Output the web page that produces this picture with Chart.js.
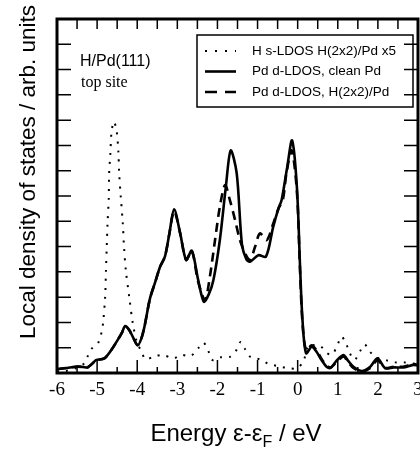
<!DOCTYPE html>
<html><head><meta charset="utf-8">
<script src="https://cdn.jsdelivr.net/npm/chart.js@4/dist/chart.umd.min.js"></script>
<style>html,body{margin:0;padding:0;background:#fff}canvas{display:block}</style>
</head><body>
<canvas id="c" width="420" height="450"></canvas>
<script>
// ---- data ----
const hEnergy = [-6.0,-5.78,-5.55,-5.36,-5.25,-5.13,-4.98,-4.89,-4.85,-4.80,-4.78,-4.76,-4.74,-4.71,-4.70,-4.67,-4.64,-4.58,-4.51,-4.47,-4.45,-4.41,-4.36,-4.33,-4.28,-4.20,-4.11,-4.0,-3.91,-3.79,-3.56,-3.35,-3.10,-2.89,-2.67,-2.48,-2.35,-2.23,-2.12,-1.92,-1.69,-1.53,-1.42,-1.31,-1.17,-0.94,-0.73,-0.51,-0.26,-0.02,0.14,0.27,0.42,0.58,0.72,0.85,0.98,1.09,1.21,1.30,1.42,1.55,1.67,1.80,2.0,2.22,2.43,2.67,3.0];
const hValues = [0.05,0.08,0.18,0.32,0.62,0.97,1.17,1.6,2.0,3.0,4.0,5.0,5.92,6.9,7.9,8.68,9.54,9.94,9.54,8.75,7.9,6.97,5.92,5.0,4.0,3.02,1.96,1.17,0.91,0.54,0.67,0.71,0.58,0.71,0.67,0.98,1.2,0.88,0.51,0.62,0.64,0.9,1.23,0.94,0.62,0.54,0.36,0.28,0.2,0.19,0.45,1.1,1.1,1.05,0.8,0.72,1.05,1.44,1.15,0.78,0.52,0.85,1.13,0.84,0.6,0.5,0.42,0.42,0.35];

const cleanEnergy = [-6.0,-5.75,-5.53,-5.35,-5.24,-5.1,-5.03,-4.82,-4.65,-4.49,-4.38,-4.30,-4.2,-4.11,-3.99,-3.9,-3.82,-3.68,-3.55,-3.43,-3.31,-3.2,-3.08,-2.93,-2.78,-2.64,-2.48,-2.34,-2.22,-2.10,-1.94,-1.79,-1.67,-1.52,-1.39,-1.28,-1.19,-0.98,-0.79,-0.61,-0.48,-0.40,-0.26,-0.14,-0.02,0.06,0.12,0.21,0.35,0.47,0.6,0.72,0.82,0.95,1.14,1.25,1.39,1.6,1.81,1.99,2.18,2.39,2.63,2.88,3.0];
const cleanValues = [0.15,0.2,0.25,0.24,0.22,0.4,0.51,0.58,0.9,1.3,1.6,1.86,1.7,1.43,1.1,1.35,1.83,2.96,3.6,4.2,4.6,5.5,6.47,5.53,4.47,4.84,3.68,2.82,3.1,3.68,5.26,7.37,8.8,7.9,5.1,4.5,4.4,4.66,4.6,5.78,6.5,6.84,8.15,9.2,7.37,4.2,2.1,0.78,1.04,0.84,0.5,0.25,0.2,0.45,0.71,0.5,0.25,0.08,0.25,0.58,0.19,0.22,0.22,0.32,0.3];

const hpdEnergy = [-6.0,-5.75,-5.53,-5.35,-5.24,-5.1,-5.03,-4.82,-4.65,-4.49,-4.38,-4.30,-4.2,-4.11,-3.99,-3.9,-3.82,-3.68,-3.55,-3.43,-3.31,-3.2,-3.08,-2.93,-2.78,-2.64,-2.48,-2.31,-2.19,-2.06,-1.94,-1.81,-1.69,-1.56,-1.44,-1.31,-1.19,-1.06,-0.94,-0.77,-0.61,-0.48,-0.37,-0.28,-0.15,-0.02,0.06,0.12,0.21,0.35,0.47,0.6,0.72,0.82,0.95,1.14,1.25,1.39,1.6,1.81,1.99,2.18,2.39,2.63,2.88,3.0];
const hpdValues = [0.15,0.2,0.25,0.24,0.22,0.4,0.51,0.58,0.9,1.3,1.6,1.86,1.7,1.43,1.1,1.35,1.83,2.96,3.6,4.2,4.6,5.5,6.4,5.53,4.47,4.84,3.6,2.89,3.8,5.26,6.57,7.43,6.84,6.05,5.26,4.73,4.47,5.0,5.52,5.26,5.9,6.5,6.84,7.9,8.8,7.2,4.0,2.0,0.9,1.1,0.9,0.55,0.3,0.22,0.4,0.65,0.45,0.2,0.05,0.2,0.5,0.2,0.25,0.25,0.35,0.32];

const seriesNames = ['H s-LDOS H(2x2)/Pd x5','Pd d-LDOS, clean Pd','Pd d-LDOS, H(2x2)/Pd'];
const xTickValues = [-6,-5,-4,-3,-2,-1,0,1,2,3];
const xTickLabels = ['-6','-5','-4','-3','-2','-1','0','1','2','3'];
const xMinorTicks = [-5.5,-4.5,-3.5,-2.5,-1.5,-0.5,0.5,1.5,2.5];
const yTickValues = [1,2,3,4,5,6,7,8,9,10,11,12,13];

const toPts = (xs, ys) => xs.map((x, i) => ({x, y: ys[i]}));

const framePlugin = {
  id: 'frame',
  afterDatasetsDraw(chart) {
    const {ctx, chartArea: a, scales: {x, y}} = chart;
    ctx.save();
    ctx.strokeStyle = '#000';
    ctx.fillStyle = '#000';
    // ticks
    ctx.lineWidth = 1.5;
    ctx.beginPath();
    xTickValues.forEach(v => {
      const px = x.getPixelForValue(v);
      ctx.moveTo(px, a.bottom); ctx.lineTo(px, a.bottom - 13);
      ctx.moveTo(px, a.top); ctx.lineTo(px, a.top + 10);
    });
    xMinorTicks.forEach(v => {
      const px = x.getPixelForValue(v);
      ctx.moveTo(px, a.bottom); ctx.lineTo(px, a.bottom - 6);
      ctx.moveTo(px, a.top); ctx.lineTo(px, a.top + 10);
    });
    yTickValues.forEach(v => {
      const py = y.getPixelForValue(v);
      ctx.moveTo(a.left, py); ctx.lineTo(a.left + 14, py);
      ctx.moveTo(a.right, py); ctx.lineTo(a.right - 14, py);
    });
    ctx.stroke();
    // frame
    ctx.lineWidth = 3;
    ctx.strokeRect(a.left, a.top, a.right - a.left, a.bottom - a.top);
    // x tick labels
    ctx.font = '19px "Liberation Serif", serif';
    ctx.textAlign = 'center';
    ctx.textBaseline = 'middle';
    xTickValues.forEach((v, i) => ctx.fillText(xTickLabels[i], x.getPixelForValue(v), 390));
    // axis titles
    const big = '24px "Liberation Sans", Arial, sans-serif';
    const small = '16px "Liberation Sans", Arial, sans-serif';
    ctx.font = big;
    const p1 = 'Energy \u03b5-\u03b5', sub = 'F', p2 = ' / eV';
    const w1 = ctx.measureText(p1).width, w3 = ctx.measureText(p2).width;
    ctx.font = small;
    const w2 = ctx.measureText(sub).width;
    let sx = 236 - (w1 + w2 + w3) / 2;
    ctx.textAlign = 'left';
    ctx.textBaseline = 'alphabetic';
    ctx.font = big;
    ctx.fillText(p1, sx, 441);
    ctx.font = small;
    ctx.fillText(sub, sx + w1, 447);
    ctx.font = big;
    ctx.fillText(p2, sx + w1 + w2, 441);
    ctx.save();
    ctx.translate(29, 172);
    ctx.rotate(-Math.PI / 2);
    ctx.textAlign = 'center';
    ctx.textBaseline = 'middle';
    ctx.font = '22.5px "Liberation Sans", Arial, sans-serif';
    ctx.fillText('Local density of states / arb. units', 0, 0);
    ctx.restore();
    // annotation
    ctx.textAlign = 'left';
    ctx.textBaseline = 'middle';
    ctx.font = '16px "Liberation Sans", Arial, sans-serif';
    ctx.fillText('H/Pd(111)', 80, 62);
    ctx.font = '16px "Liberation Serif", serif';
    ctx.fillText('top site', 81, 83);
    // legend
    ctx.lineWidth = 1.5;
    ctx.strokeRect(197, 35, 216, 72);
    const rows = [51, 71.5, 92];
    ctx.font = '13.5px "Liberation Sans", Arial, sans-serif';
    chart.data.datasets.forEach((ds, i) => {
      ctx.save();
      ctx.lineWidth = ds.borderWidth;
      ctx.setLineDash(i === 0 ? [2, 8] : (i === 2 ? [12, 8] : []));
      ctx.beginPath();
      ctx.moveTo(205, rows[i]); ctx.lineTo(236, rows[i]);
      ctx.stroke();
      ctx.restore();
      ctx.fillText(ds.label, 252, rows[i]);
    });
    ctx.restore();
  }
};

new Chart(document.getElementById('c'), {
  type: 'line',
  data: {
    datasets: [
      {label: seriesNames[0], data: toPts(hEnergy, hValues), borderColor: '#000', borderWidth: 2, borderDash: [2, 7], pointRadius: 0, tension: 0.3, fill: false},
      {label: seriesNames[1], data: toPts(cleanEnergy, cleanValues), borderColor: '#000', borderWidth: 2.6, pointRadius: 0, tension: 0.3, fill: false},
      {label: seriesNames[2], data: toPts(hpdEnergy, hpdValues), borderColor: '#000', borderWidth: 2.6, borderDash: [9, 6], pointRadius: 0, tension: 0.3, fill: false}
    ]
  },
  options: {
    responsive: false,
    animation: false,
    devicePixelRatio: 1,
    layout: {padding: {left: 57, top: 19, right: 2, bottom: 77}},
    plugins: {legend: {display: false}, tooltip: {enabled: false}},
    scales: {
      x: {type: 'linear', min: -6, max: 3, display: false},
      y: {type: 'linear', min: 0, max: 14, display: false}
    }
  },
  plugins: [framePlugin]
});
</script>
</body></html>
